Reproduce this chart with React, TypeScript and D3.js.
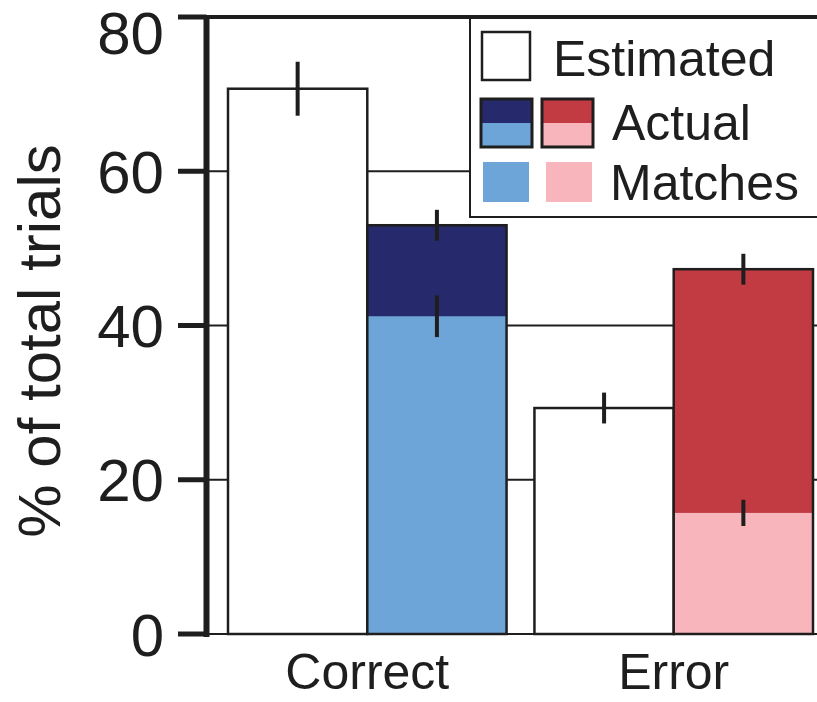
import React from "react";
import * as d3 from "d3";

const categories = ["Correct", "Error"];
const estimated = [70.7, 29.3];
const estimatedErr = [3.5, 2.0];
const actual = [53.0, 47.3];
const actualErr = [2.0, 2.0];
const matches = [41.2, 15.7];
const matchesErr = [2.7, 1.7];
const yTicks = [0, 20, 40, 60, 80];
const subGroups = ["Estimated", "Actual"];

const darkColors = ["#262a6c", "#c23a42"];
const lightColors = ["#6ea5d8", "#f8b5bc"];

const W = 817;
const H = 702;
const FONT = "'Liberation Sans', Arial, Helvetica, sans-serif";
const INK = "#1e1e1e";

export default function App() {
  const axisX = 206.5;
  const y = d3.scaleLinear().domain([0, 80]).range([634, 17]);
  const x0 = d3
    .scaleBand<string>()
    .domain(categories)
    .range([228, 813])
    .paddingInner(0.091)
    .paddingOuter(0);
  const x1 = d3
    .scaleBand<string>()
    .domain(subGroups)
    .range([0, x0.bandwidth()])
    .padding(0);

  const bw = x1.bandwidth();

  return (
    <svg
      width={W}
      height={H}
      style={{ position: "absolute", left: 0, top: 0, display: "block", background: "#fff" }}
      fontFamily={FONT}
    >
      <rect x={0} y={0} width={W} height={H} fill="#fff" />
      {/* gridlines */}
      {yTicks.slice(0, 4).map((t) => (
        <line key={"g" + t} x1={axisX} x2={W} y1={y(t)} y2={y(t)} stroke={INK} strokeWidth={2} />
      ))}

      {/* bars */}
      {categories.map((c, i) => {
        const gx = x0(c)!;
        const ex = gx + x1("Estimated")!;
        const ax = gx + x1("Actual")!;
        return (
          <g key={c}>
            <rect
              x={ex}
              y={y(estimated[i])}
              width={bw}
              height={y(0) - y(estimated[i])}
              fill="#fff"
              stroke={INK}
              strokeWidth={2.5}
            />
            <rect
              x={ax}
              y={y(actual[i])}
              width={bw}
              height={y(0) - y(actual[i])}
              fill={darkColors[i]}
            />
            <rect
              x={ax}
              y={y(matches[i])}
              width={bw}
              height={y(0) - y(matches[i])}
              fill={lightColors[i]}
            />
            <rect
              x={ax}
              y={y(actual[i])}
              width={bw}
              height={y(0) - y(actual[i])}
              fill="none"
              stroke={INK}
              strokeWidth={2.5}
            />
            {/* error bars */}
            {[
              [ex + bw / 2, estimated[i], estimatedErr[i]],
              [ax + bw / 2, actual[i], actualErr[i]],
              [ax + bw / 2, matches[i], matchesErr[i]],
            ].map(([cx, v, e], k) => (
              <line
                key={k}
                x1={cx}
                x2={cx}
                y1={y(v + e)}
                y2={y(v - e)}
                stroke={INK}
                strokeWidth={4}
              />
            ))}
            <text
              x={gx + x0.bandwidth() / 2}
              y={689}
              textAnchor="middle"
              fontSize={50}
              fill={INK}
            >
              {c}
            </text>
          </g>
        );
      })}

      {/* legend */}
      <g>
        <rect x={470} y={y(80)} width={500} height={217 - y(80)} fill="#fff" stroke={INK} strokeWidth={2} />
        <rect x={482} y={32} width={48} height={48} fill="#fff" stroke={INK} strokeWidth={2.5} />
        <text x={553} y={76} fontSize={50} fill={INK}>Estimated</text>

        {[481, 542].map((lx, i) => (
          <g key={"la" + i}>
            <rect x={lx} y={99} width={51} height={24} fill={darkColors[i]} />
            <rect x={lx} y={123} width={51} height={24} fill={lightColors[i]} />
            <rect x={lx} y={99} width={51} height={48} fill="none" stroke={INK} strokeWidth={3} />
          </g>
        ))}
        <text x={612} y={140} fontSize={50} fill={INK}>Actual</text>

        {[483, 546].map((lx, i) => (
          <rect key={"lm" + i} x={lx} y={162} width={46} height={40} fill={lightColors[i]} />
        ))}
        <text x={610} y={200} fontSize={50} fill={INK}>Matches</text>
      </g>

      {/* axes */}
      <line x1={axisX} x2={W} y1={y(80)} y2={y(80)} stroke={INK} strokeWidth={4} />
      <line x1={axisX} x2={axisX} y1={y(80) - 2} y2={y(0) + 3} stroke={INK} strokeWidth={6} />
      {yTicks.map((t) => (
        <g key={"t" + t}>
          <line x1={178} x2={axisX} y1={y(t)} y2={y(t)} stroke={INK} strokeWidth={5} />
          <text
            x={164}
            y={Math.max(y(t), 32)}
            dy="0.36em"
            textAnchor="end"
            fontSize={60}
            fill={INK}
          >
            {t}
          </text>
        </g>
      ))}
      <text
        transform={`translate(60, 341) rotate(-90)`}
        textAnchor="middle"
        fontSize={60}
        fill={INK}
      >
        % of total trials
      </text>
    </svg>
  );
}
